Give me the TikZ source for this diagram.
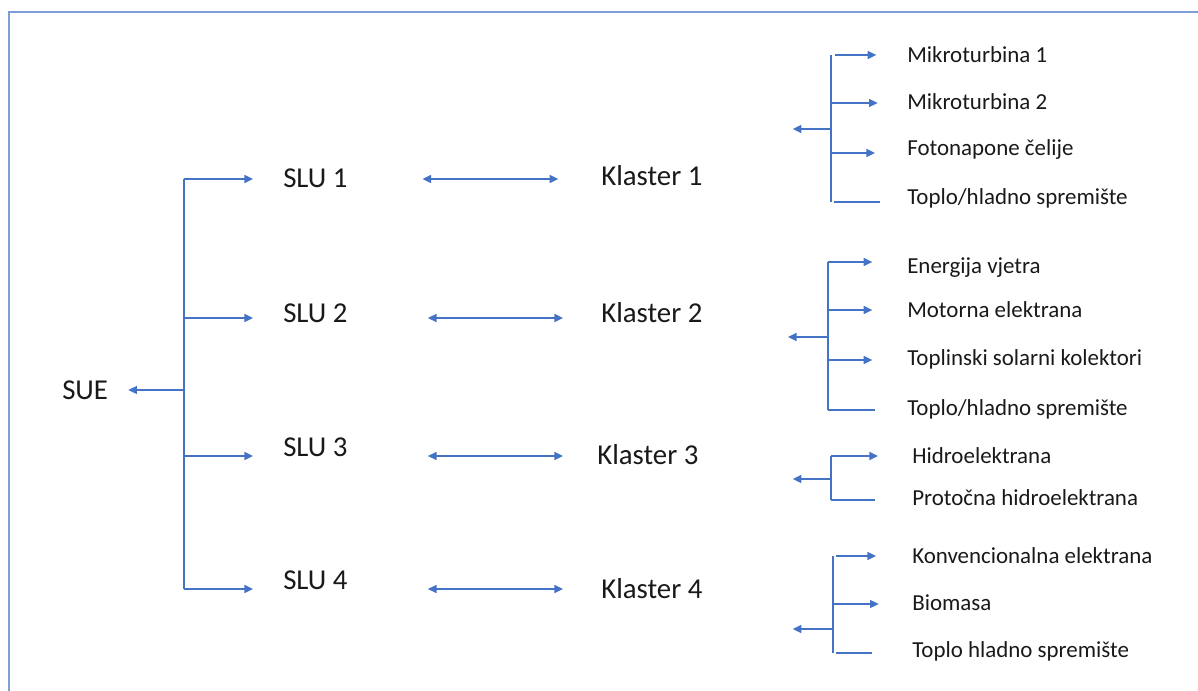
\documentclass[tikz,border=0pt]{standalone}
\usepackage{fontspec}
\setmainfont{Carlito}
\usetikzlibrary{arrows.meta,positioning}
\definecolor{linkblue}{HTML}{4472C4}
\definecolor{frameblue}{HTML}{7F9ED8}

\begin{document}
\begin{tikzpicture}[x=0.75pt,y=-0.75pt,
  big/.style={anchor=base west,inner sep=0pt,text=black!90,font=\fontsize{21.6}{26}\selectfont},
  leaf/.style={anchor=base west,inner sep=0pt,text=black!90,font=\fontsize{17.2}{21}\selectfont},
  link/.style={draw=linkblue,line width=1.1pt},
  arrow/.style={link,-{Triangle[length=6.5pt,width=6pt]}},
  twoway/.style={link,{Triangle[length=6.5pt,width=6pt]}-{Triangle[length=6.5pt,width=6pt]}}]
\useasboundingbox (0,0) rectangle (1198,691);
\draw[draw=frameblue,line width=1pt] (9,691) -- (9,12) -- (1198,12);

% units and clusters
\node[big] (sue) at (62,399) {SUE};
\node[big] (slu1) at (283,188) {SLU 1};
\node[big] (slu2) at (283,322) {SLU 2};
\node[big] (slu3) at (283,456) {SLU 3};
\node[big] (slu4) at (283,589) {SLU 4};
\node[big] (kl1) at (601,186) {Klaster 1};
\node[big] (kl2) at (601,322) {Klaster 2};
\node[big] (kl3) at (597,464) {Klaster 3};
\node[big] (kl4) at (601,598) {Klaster 4};

% left tree
\coordinate (r1) at (184,179);
\coordinate (r2) at (184,318);
\coordinate (r3) at (184,456);
\coordinate (r4) at (184,589);
\coordinate (rm) at (184,390);
\draw[link] (r1) -- (r4);
\draw[arrow,shorten >=15pt] (rm) -- (rm -| sue.east);
\draw[arrow,shorten >=22.5pt] (r1) -- (r1 -| slu1.west);
\draw[arrow,shorten >=22.5pt] (r2) -- (r2 -| slu2.west);
\draw[arrow,shorten >=22.5pt] (r3) -- (r3 -| slu3.west);
\draw[arrow,shorten >=22.5pt] (r4) -- (r4 -| slu4.west);
\draw[twoway,shorten <=56pt,shorten >=32pt] (r1 -| slu1.east) -- (r1 -| kl1.west);
\draw[twoway,shorten <=60pt,shorten >=28.5pt] (r2 -| slu2.east) -- (r2 -| kl2.west);
\draw[twoway,shorten <=60pt,shorten >=25.5pt] (r3 -| slu3.east) -- (r3 -| kl3.west);
\draw[twoway,shorten <=60pt,shorten >=28.5pt] (r4 -| slu4.east) -- (r4 -| kl4.west);

% cluster 1
\node[leaf] (a1) at (907,63) {Mikroturbina 1};
\node[leaf] (a2) at (907,110) {Mikroturbina 2};
\node[leaf] (a3) at (907,156) {Fotonapone čelije};
\node[leaf] (a4) at (907,205) {Toplo/hladno spremište};
\coordinate (a1j) at (831,55);
\coordinate (a2j) at (831,103);
\coordinate (a3j) at (831,153);
\coordinate (a4j) at (831,202);
\coordinate (am) at (831,129);
\draw[link] (a1j) -- (a4j);
\draw[arrow,shorten <=3pt,shorten >=23pt] (a1j) -- (a1j -| a1.west);
\draw[arrow,shorten >=22pt] (a2j) -- (a2j -| a2.west);
\draw[arrow,shorten >=24pt] (a3j) -- (a3j -| a3.west);
\draw[link,shorten <=2pt,shorten >=20pt] (a4j) -- (a4j -| a4.west);
\draw[arrow,shorten >=67.5pt] (am) -- (am -| kl1.east);

% cluster 2
\node[leaf] (b1) at (907,274) {Energija vjetra};
\node[leaf] (b2) at (907,317) {Motorna elektrana};
\node[leaf] (b3) at (907,365) {Toplinski solarni kolektori};
\node[leaf] (b4) at (907,415) {Toplo/hladno spremište};
\coordinate (b1j) at (828,262);
\coordinate (b2j) at (828,310);
\coordinate (b3j) at (828,360);
\coordinate (b4j) at (828,410);
\coordinate (bm) at (828,337);
\draw[link] (b1j) -- (b4j);
\draw[arrow,shorten >=26pt] (b1j) -- (b1j -| b1.west);
\draw[arrow,shorten >=26pt] (b2j) -- (b2j -| b2.west);
\draw[arrow,shorten >=26pt] (b3j) -- (b3j -| b3.west);
\draw[link,shorten >=24pt] (b4j) -- (b4j -| b4.west);
\draw[arrow,shorten >=64pt] (bm) -- (bm -| kl2.east);

% cluster 3
\node[leaf] (c1) at (912,463) {Hidroelektrana};
\node[leaf] (c2) at (912,505) {Protočna hidroelektrana};
\coordinate (c1j) at (831,456);
\coordinate (c2j) at (831,500);
\coordinate (cm) at (831,479);
\draw[link] (c1j) -- (c2j);
\draw[arrow,shorten >=25.5pt] (c1j) -- (c1j -| c1.west);
\draw[link,shorten >=28pt] (c2j) -- (c2j -| c2.west);
\draw[arrow,shorten >=70.5pt] (cm) -- (cm -| kl3.east);

% cluster 4
\node[leaf] (d1) at (912,563) {Konvencionalna elektrana};
\node[leaf] (d2) at (912,610) {Biomasa};
\node[leaf] (d3) at (912,657) {Toplo hladno spremište};
\coordinate (d1j) at (833,556);
\coordinate (d2j) at (833,604);
\coordinate (d3j) at (833,653);
\coordinate (dm) at (833,629);
\draw[link] (d1j) -- (d3j);
\draw[arrow,shorten <=2pt,shorten >=27pt] (d1j) -- (d1j -| d1.west);
\draw[arrow,shorten >=25pt] (d2j) -- (d2j -| d2.west);
\draw[link,shorten <=2pt,shorten >=30pt] (d3j) -- (d3j -| d3.west);
\draw[arrow,shorten >=67.5pt] (dm) -- (dm -| kl4.east);
\end{tikzpicture}
\end{document}
